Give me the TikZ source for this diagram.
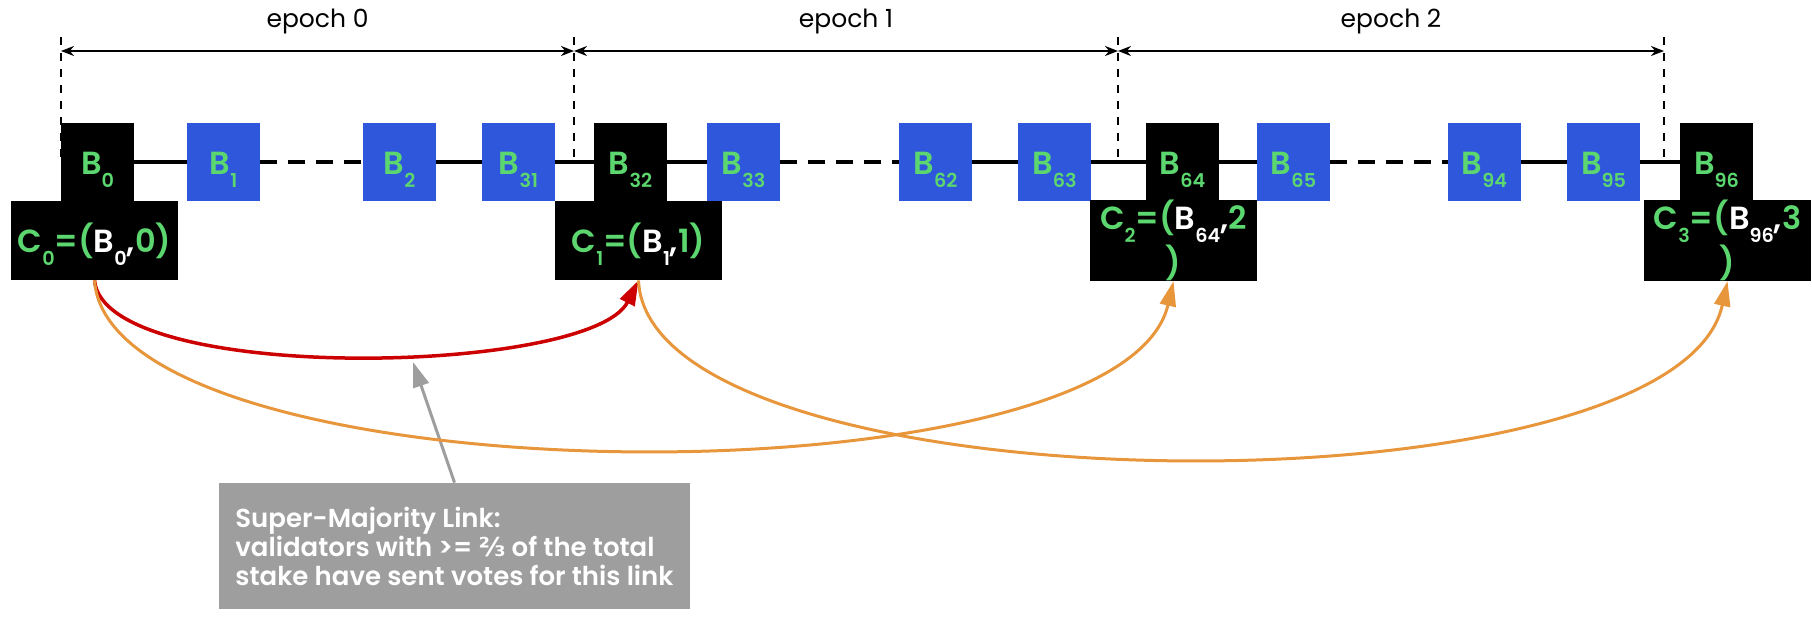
\documentclass[tikz,border=0pt]{standalone}
\usepackage{fontspec}
\setmainfont{Poppins}[BoldFont={Poppins SemiBold}]
\newfontfamily\fracfont{DejaVu Sans}
\usepackage{tikz}
\usetikzlibrary{arrows.meta,positioning}
\definecolor{chainblue}{RGB}{46,87,219}
\definecolor{labelgreen}{RGB}{92,214,110}
\definecolor{linkred}{RGB}{204,0,0}
\definecolor{linkorange}{RGB}{232,150,60}
\definecolor{notegray}{RGB}{158,158,158}
\newcommand{\lo}[1]{\raisebox{-6.5pt}{\fontsize{9.6}{10}\selectfont #1}}
\newcommand{\wht}[1]{\textcolor{white}{#1}}
\tikzset{
  block/.style={rectangle, fill=chainblue, minimum width=36.5pt, minimum height=39pt,
                inner sep=0pt, text=labelgreen, text height=19pt, text depth=6.5pt,
                font=\fontsize{16}{20}\selectfont\bfseries},
  checkpoint/.style={block, fill=black, minimum width=83.5pt, minimum height=39.5pt, align=center},
  chain/.style={line width=2pt},
  chaingap/.style={chain, dash pattern=on 8.3pt off 5.7pt},
  boundary/.style={line width=1pt, dash pattern=on 4pt off 4pt},
  epochline/.style={{Stealth[length=6.5pt,width=5pt]}-{Stealth[length=6.5pt,width=5pt]}, line width=1pt},
  epochlabel/.style={above=8pt, inner sep=0pt, font=\fontsize{12.5}{14}\selectfont},
  supermajority/.style={-{Triangle[length=12.5pt,width=8pt]}, line width=1.75pt, linkred},
  vote/.style={-{Triangle[length=12.5pt,width=8pt]}, line width=1.5pt, linkorange},
  pointer/.style={-{Triangle[length=12.5pt,width=8pt]}, line width=1.5pt, notegray},
  note/.style={rectangle, fill=notegray, text=white, minimum width=235.5pt, minimum height=63pt,
               align=left, inner sep=0pt, font=\fontsize{13}{14.5}\selectfont\bfseries},
}
\begin{document}
\begin{tikzpicture}[x=0.5pt, y=-0.5pt]
\useasboundingbox (0,0) rectangle (1812,619);
\foreach \name/\x/\num/\col in {b0/97.5/0/black, b1/223.5/1/chainblue, b2/399.5/2/chainblue,
    b31/518.5/31/chainblue, b32/630.5/32/black, b33/743.5/33/chainblue, b62/935.5/62/chainblue,
    b63/1054.5/63/chainblue, b64/1182.5/64/black, b65/1293.5/65/chainblue, b94/1484.5/94/chainblue,
    b95/1603.5/95/chainblue, b96/1716.5/96/black}
  \node[block, fill=\col] (\name) at (\x,162) {B\lo{\num}};
\foreach \a/\b in {b0/b1, b2/b31, b31/b32, b32/b33, b62/b63, b63/b64, b64/b65, b94/b95, b95/b96}
  \draw[chain] (\a) -- (\b);
\foreach \a/\b in {b1/b2, b33/b62, b65/b94}
  \draw[chaingap] (\a) -- (\b);

\node[checkpoint] (c0) at (94.5,240.5) {C\lo{0}=(\wht{B\lo{0},}0)};
\node[checkpoint] (c1) at (638.5,240.5) {C\lo{1}=(\wht{B\lo{1},}1)};
\node[checkpoint, text height=, text depth=] (c2) at (1173.5,240.5) {C\lo{2}=(\wht{B\lo{64},}2\\)};
\node[checkpoint, text height=, text depth=] (c3) at (1727.5,240.5) {C\lo{3}=(\wht{B\lo{96},}3\\)};

\foreach \i/\x in {0/61, 1/574, 2/1118, 3/1664} {
  \coordinate (top\i) at (\x,37);
  \coordinate (low\i) at (\x,160);
  \coordinate (ep\i) at (\x,51);
  \draw[boundary] (top\i) -- (low\i);
}
\foreach \i/\j in {0/1, 1/2, 2/3}
  \draw[epochline] (ep\i) -- node[epochlabel] {epoch \i} (ep\j);

\node[note] (note) at (454.5,546) {Super-Majority Link:\\validators with >= {\fracfont ⅔} of the total\\stake have sent votes for this link};
\coordinate (aim) at (413,362);
\draw[pointer] (note.north) -- (aim);

\draw[supermajority] (c0.south) .. controls +(10,105) and +(-48,95) .. (c1.south);
\draw[vote] (c0.south) .. controls +(15,220) and +(-53,228) .. (c2.south);
\draw[vote] (c1.south) .. controls +(10,232) and +(-52,240) .. (c3.south);
\end{tikzpicture}
\end{document}
